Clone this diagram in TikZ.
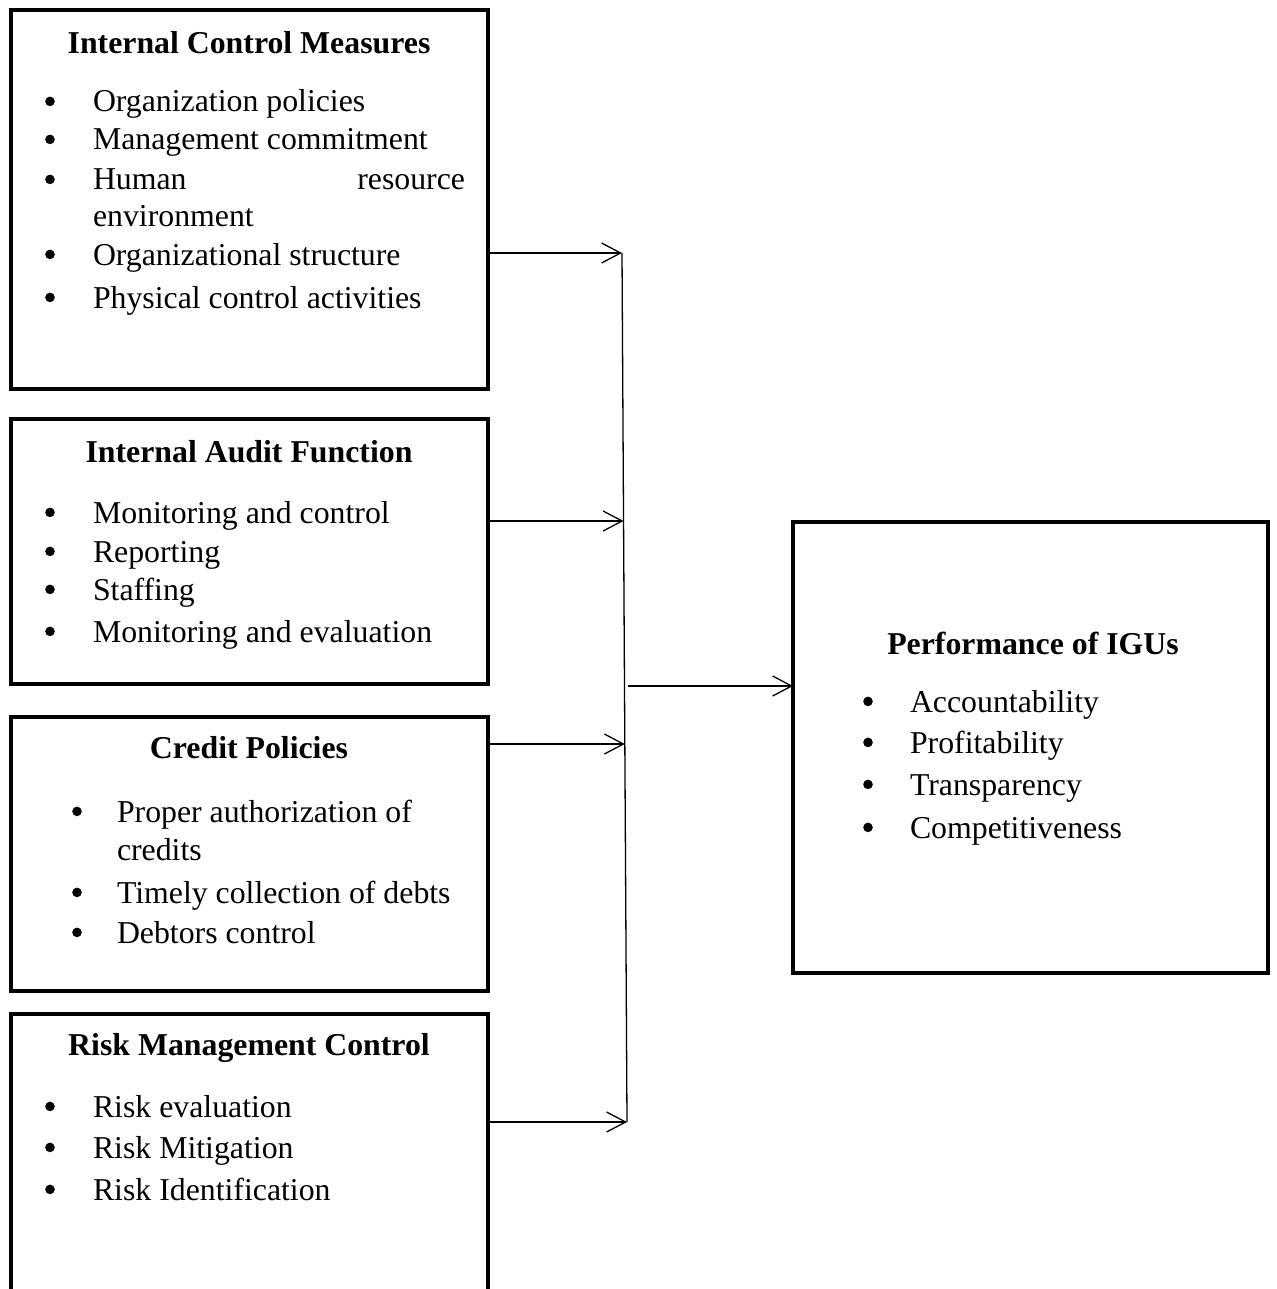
\documentclass[tikz,border=0pt]{standalone}
\usepackage{fontspec}
\setmainfont{Liberation Serif}
\usetikzlibrary{arrows.meta,calc}
\begin{document}
\begin{tikzpicture}[x=0.5pt,y=-0.5pt,
  boxsty/.style={draw, line width=2pt, rectangle, outer sep=0pt, inner sep=0pt, anchor=north west},
  txt/.style={inner sep=0pt, outer sep=0pt, anchor=base west, font=\fontsize{15.9pt}{19pt}\selectfont},
  ttl/.style={inner sep=0pt, outer sep=0pt, anchor=base, font=\fontsize{15.9pt}{19pt}\selectfont\bfseries},
  bul/.style={circle, fill=black, inner sep=0pt, outer sep=0pt, minimum size=4.8pt, yshift=5.3pt},
  arr/.style={line width=0.65pt, -{Straight Barb[length=9.5pt,width=10pt,line width=0.65pt]}},
  conn/.style={line width=0.65pt}]
\useasboundingbox (0,0) rectangle (1277,1289);
\fill[white] (0,0) rectangle (1277,1289);

% boxes
\node[boxsty, minimum width=238.5pt, minimum height=189.5pt] (box1) at (10.5,10) {};
\node[boxsty, minimum width=238.5pt, minimum height=132.5pt] (box2) at (10.5,419) {};
\node[boxsty, minimum width=238.5pt, minimum height=137pt] (box3) at (10.5,717) {};
\begin{scope}
\clip (0,0) rectangle (1277,1289);
\node[boxsty, minimum width=238.5pt, minimum height=143pt] (box4) at (10.5,1014) {};
\end{scope}
\node[boxsty, minimum width=237.5pt, minimum height=225.5pt] (perf) at (793,522) {};

% box 1
\node[ttl] (t1) at (249,54) {Internal Control Measures};
\node[bul] (b11) at (50,112) {};
\node[txt] (i11) at (93,112) {Organization policies};
\node[bul] (b12) at (50,150) {};
\node[txt] (i12) at (93,150) {Management commitment};
\node[bul] (b13) at (50,190) {};
\node[txt] (i13) at (93,190) {\makebox[186pt][s]{Human resource}};
\node[txt] (i13b) at (93,227) {environment};
\node[bul] (b14) at (50,265) {};
\node[txt] (i14) at (93,265) {Organizational structure};
\node[bul] (b15) at (50,308) {};
\node[txt] (i15) at (93,308) {Physical control activities};

% box 2
\node[ttl] (t2) at (249,462) {Internal Audit Function};
\node[bul] (b21) at (50,523) {};
\node[txt] (i21) at (93,523) {Monitoring and control};
\node[bul] (b22) at (50,562) {};
\node[txt] (i22) at (93,562) {Reporting};
\node[bul] (b23) at (50,600) {};
\node[txt] (i23) at (93,600) {Staffing};
\node[bul] (b24) at (50,642) {};
\node[txt] (i24) at (93,642) {Monitoring and evaluation};

% box 3
\node[ttl] (t3) at (249,758) {Credit Policies};
\node[bul] (b31) at (77,822) {};
\node[txt] (i31) at (117,822) {Proper authorization of};
\node[txt] (i31b) at (117,860) {credits};
\node[bul] (b32) at (77,903) {};
\node[txt] (i32) at (117,903) {Timely collection of debts};
\node[bul] (b33) at (77,943) {};
\node[txt] (i33) at (117,943) {Debtors control};

% box 4
\node[ttl] (t4) at (249,1055) {Risk Management Control};
\node[bul] (b41) at (50,1117) {};
\node[txt] (i41) at (93,1117) {Risk evaluation};
\node[bul] (b42) at (50,1158) {};
\node[txt] (i42) at (93,1158) {Risk Mitigation};
\node[bul] (b43) at (50,1200) {};
\node[txt] (i43) at (93,1200) {Risk Identification};

% performance box
\node[ttl] (t5) at (1033,654) {Performance of IGUs};
\node[bul] (b51) at (868,712) {};
\node[txt] (i51) at (910,712) {Accountability};
\node[bul] (b52) at (868,753) {};
\node[txt] (i52) at (910,753) {Profitability};
\node[bul] (b53) at (868,795) {};
\node[txt] (i53) at (910,795) {Transparency};
\node[bul] (b54) at (868,838) {};
\node[txt] (i54) at (910,838) {Competitiveness};

% connectors
\coordinate (vt) at (622,253);
\coordinate (vb) at (627,1122);
\coordinate (a2) at (623.5,521);
\coordinate (a3) at (624.8,744);
\coordinate (ms) at (628,686);
\draw[conn] (vt) -- (vb);
\draw[arr] (box1.east |- vt) -- (vt);
\draw[arr] (box2.east |- a2) -- (a2);
\draw[arr] (box3.east |- a3) -- (a3);
\draw[arr] (box4.east |- vb) -- (vb);
\draw[arr] (ms) -- (perf.west |- ms);
\end{tikzpicture}
\end{document}
